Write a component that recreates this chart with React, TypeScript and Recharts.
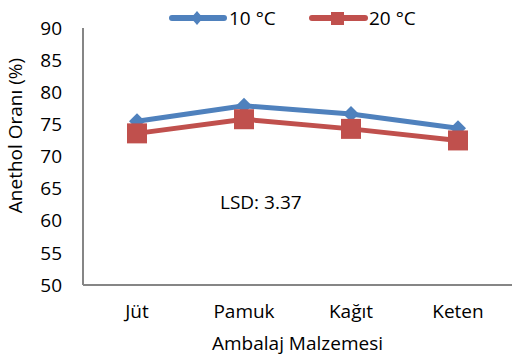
import React from "react";
import { LineChart, Line, XAxis, YAxis } from "recharts";

const categories = ["Jüt", "Pamuk", "Kağıt", "Keten"];
const temp10 = [75.5, 77.9, 76.6, 74.4];
const temp20 = [73.6, 75.8, 74.3, 72.5];
const yTicks = [50, 55, 60, 65, 70, 75, 80, 85, 90];
const seriesNames = ["10 °C", "20 °C"];
const lsdText = "LSD: 3.37";

const data = categories.map((c, i) => ({ name: c, t10: temp10[i], t20: temp20[i] }));

const BLUE = "#4F81BD";
const RED = "#C0504D";
const FONT = "'Open Sans', sans-serif";
const FS = 19;

const Diamond = (props: any) => {
  const { cx, cy } = props;
  if (cx == null || cy == null) return null;
  const s = 8;
  return <path d={`M${cx},${cy - s} L${cx + s},${cy} L${cx},${cy + s} L${cx - s},${cy} Z`} fill={BLUE} />;
};

const Square = (props: any) => {
  const { cx, cy } = props;
  if (cx == null || cy == null) return null;
  const s = 10;
  return <rect x={cx - s} y={cy - s} width={2 * s} height={2 * s} fill={RED} />;
};

const LegendOverlay = () => (
  <svg width={512} height={30} style={{ position: "absolute", left: 0, top: 0, display: "block" }}>
    <line x1={172} y1={18} x2={224} y2={18} stroke={BLUE} strokeWidth={6} strokeLinecap="round" />
    <path d="M197,11 L203,18 L197,25 L191,18 Z" fill={BLUE} />
    <text x={229} y={25} fontSize={FS} fontFamily={FONT} fill="#000">{seriesNames[0]}</text>
    <line x1={312} y1={18} x2={365} y2={18} stroke={RED} strokeWidth={6} strokeLinecap="round" />
    <rect x={331} y={12} width={13} height={13} fill={RED} />
    <text x={369} y={25} fontSize={FS} fontFamily={FONT} fill="#000">{seriesNames[1]}</text>
  </svg>
);

export default function App() {
  return (
    <div style={{ position: "absolute", left: 0, top: 0, width: 512, height: 357, background: "#fff" }}>
      <LineChart width={512} height={357} data={data} margin={{ top: 28, right: 0, bottom: 0, left: 23 }}>
        <XAxis
          dataKey="name"
          height={72}
          padding={{ left: 54, right: 54 }}
          axisLine={{ stroke: "#868686", strokeWidth: 2 }}
          tickLine={false}
          tickSize={0}
          tickMargin={20}
          tick={{ fill: "#000", fontSize: FS, fontFamily: FONT }}
          label={{ value: "Ambalaj Malzemesi", position: "insideBottom", offset: 7, fill: "#000", fontSize: FS, fontFamily: FONT }}
        />
        <YAxis
          width={60}
          domain={[50, 90]}
          ticks={yTicks}
          interval={0}
          axisLine={{ stroke: "#868686", strokeWidth: 2 }}
          tickLine={false}
          tickSize={0}
          tickMargin={21}
          tick={{ fill: "#000", fontSize: FS, fontFamily: FONT }}
          label={{ value: "Anethol Oranı (%)", angle: -90, position: "insideLeft", offset: -8, dy: -21, fill: "#000", fontSize: FS, fontFamily: FONT, style: { textAnchor: "middle" } }}
        />
        <Line dataKey="t10" name={seriesNames[0]} stroke={BLUE} strokeWidth={5} dot={<Diamond />} isAnimationActive={false} />
        <Line dataKey="t20" name={seriesNames[1]} stroke={RED} strokeWidth={5} dot={<Square />} isAnimationActive={false} />
      </LineChart>
      <LegendOverlay />
      <div style={{ position: "absolute", left: 220, top: 189, fontSize: FS, fontFamily: FONT, color: "#000", whiteSpace: "nowrap", lineHeight: "26px" }}>
        {lsdText}
      </div>
    </div>
  );
}
